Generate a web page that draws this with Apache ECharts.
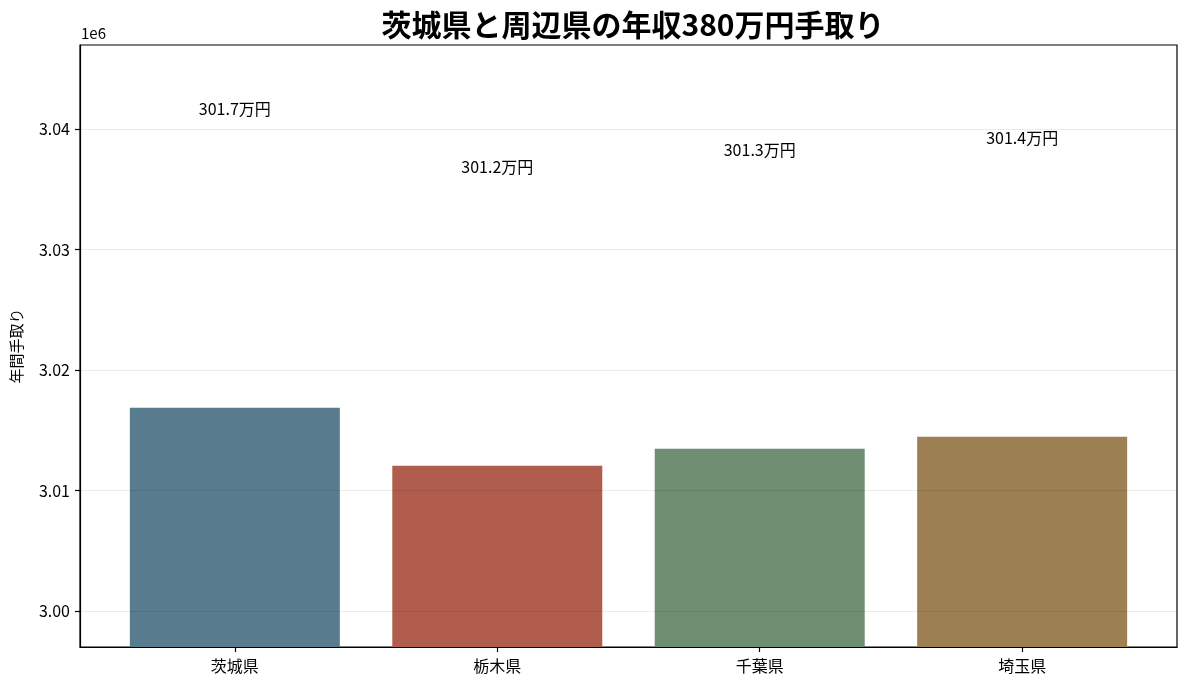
<!DOCTYPE html>
<html>
<head>
<meta charset="utf-8">
<script src="https://cdn.jsdelivr.net/npm/echarts@6/dist/echarts.min.js"></script>
<style>
  html, body { margin: 0; padding: 0; background: #fff; }
  #main { width: 1188px; height: 688px; }
</style>
</head>
<body>
<div id="main"></div>
<script>
// データ
let prefectures = ['茨城県', '栃木県', '千葉県', '埼玉県'];
let takeHome = [3016880, 3012060, 3013470, 3014470];
let barLabels = ['301.7万円', '301.2万円', '301.3万円', '301.4万円'];
let yTicks = [3000000, 3010000, 3020000, 3030000, 3040000];
let barColors = ['#587c8e', '#b05d4e', '#6f8f73', '#9c7f52'];

let font = '"Noto Sans CJK JP", "Noto Sans", sans-serif';

let chart = echarts.init(document.getElementById('main'));

let option = {
  animation: false,
  textStyle: { fontFamily: font },
  title: {
    text: '茨城県と周辺県の年収380万円手取り',
    left: 628,
    textAlign: 'center',
    top: 5,
    textStyle: { fontSize: 30, fontWeight: 'bold', color: '#000', fontFamily: font }
  },
  graphic: [{
    type: 'text',
    left: 81,
    top: 26,
    style: { text: '1e6', fontSize: 15, fill: '#000', fontFamily: font }
  }],
  grid: {
    left: 80, right: 11, top: 45, bottom: 41,
    show: true, borderColor: '#000', borderWidth: 1.2
  },
  xAxis: {
    type: 'value',
    min: -0.59,
    max: 3.59,
    axisLine: { show: true, onZero: false, lineStyle: { color: '#000', width: 1.2 } },
    splitLine: { show: false },
    axisTick: { show: true, length: 5, customValues: [0, 1, 2, 3], lineStyle: { color: '#000', width: 1.2 } },
    axisLabel: {
      customValues: [0, 1, 2, 3],
      fontSize: 16,
      color: '#000',
      margin: 11,
      formatter: v => prefectures[Math.round(v)]
    }
  },
  yAxis: {
    type: 'value',
    min: 2997000,
    max: 3047000,
    z: 5,
    name: '年間手取り',
    nameLocation: 'middle',
    nameGap: 56,
    nameTextStyle: { fontSize: 15, color: '#000', fontFamily: font },
    axisLine: { show: true, onZero: false, lineStyle: { color: '#000', width: 1.2 } },
    axisTick: { show: true, length: 5, customValues: yTicks, lineStyle: { color: '#000', width: 1.2 } },
    axisLabel: {
      customValues: yTicks,
      fontSize: 16,
      color: '#000',
      margin: 10,
      formatter: v => (v / 1e6).toFixed(2)
    },
    splitLine: { show: true, lineStyle: { color: 'rgba(0,0,0,0.08)', width: 1 } }
  },
  series: [{
    type: 'bar',
    barWidth: 210,
    data: takeHome.map((v, i) => ({
      value: [i, v],
      itemStyle: { color: barColors[i] },
      label: { formatter: barLabels[i] }
    })),
    label: {
      show: true,
      position: 'top',
      distance: 291,
      fontSize: 16,
      color: '#000',
      fontFamily: font
    }
  }]
};

chart.setOption(option);
</script>
</body>
</html>
